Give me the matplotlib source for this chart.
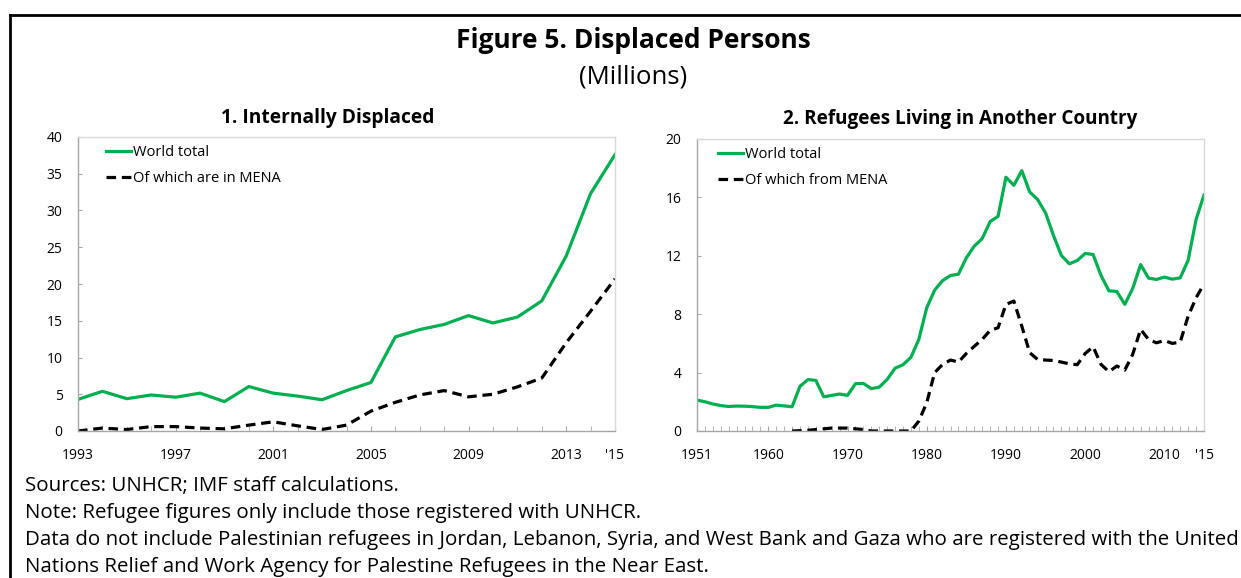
import matplotlib
matplotlib.use("Agg")
import matplotlib.pyplot as plt
from matplotlib.lines import Line2D

plt.rcParams['font.family'] = ['Open Sans', 'DejaVu Sans']

# ---------------- data ----------------
idp_years = list(range(1993, 2016))
idp_world = [4.3, 5.4, 4.4, 4.9, 4.6, 5.15, 4.0, 6.05, 5.15, 4.75, 4.25, 5.5,
             6.6, 12.8, 13.8, 14.5, 15.7, 14.7, 15.5, 17.7, 23.8, 32.3, 37.6]
idp_mena = [0.0, 0.4, 0.2, 0.6, 0.6, 0.4, 0.3, 0.8, 1.25, 0.7, 0.2, 0.8,
            2.7, 3.9, 4.9, 5.5, 4.65, 5.0, 6.0, 7.2, 12.0, 16.3, 20.7]

ref_years = list(range(1951, 2016))
ref_world = [2.12, 2.0, 1.85, 1.74, 1.68, 1.71, 1.70, 1.67, 1.62, 1.62, 1.77, 1.72,
             1.66, 3.06, 3.52, 3.47, 2.34, 2.44, 2.53, 2.44, 3.24, 3.26, 2.9, 3.0,
             3.53, 4.3, 4.54, 5.04, 6.27, 8.44, 9.65, 10.3, 10.65, 10.74, 11.86,
             12.66, 13.18, 14.34, 14.7, 17.38, 16.83, 17.83, 16.37, 15.85, 14.94,
             13.39, 12.02, 11.45, 11.68, 12.16, 12.09, 10.65, 9.6, 9.56, 8.67,
             9.76, 11.4, 10.47, 10.38, 10.54, 10.4, 10.49, 11.7, 14.48, 16.17]
ref_mena_years = list(range(1963, 2016))
ref_mena = [0.0, 0.02, 0.05, 0.1, 0.15, 0.2, 0.2, 0.2, 0.15, 0.1, 0.0, 0.0, 0.0,
            0.0, 0.0, 0.0, 0.68, 1.94, 4.0, 4.56, 4.86, 4.72, 5.31, 5.8, 6.27,
            6.89, 7.07, 8.67, 8.9, 7.18, 5.36, 4.9, 4.86, 4.83, 4.72, 4.6, 4.54,
            5.31, 5.77, 4.56, 4.06, 4.45, 4.17, 5.25, 6.96, 6.27, 6.04, 6.2, 6.0,
            6.09, 7.87, 9.12, 10.08]

left_xticks = [1993, 1997, 2001, 2005, 2009, 2013, 2015]
left_xlabels = ['1993', '1997', '2001', '2005', '2009', '2013', "'15"]
right_xticks = [1951, 1960, 1970, 1980, 1990, 2000, 2010, 2015]
right_xlabels = ['1951', '1960', '1970', '1980', '1990', '2000', '2010', "'15"]
left_yticks = [0, 5, 10, 15, 20, 25, 30, 35, 40]
right_yticks = [0, 4, 8, 12, 16, 20]

title = 'Figure 5. Displaced Persons'
subtitle = '(Millions)'
panel_titles = ['1. Internally Displaced', '2. Refugees Living in Another Country']
legend_left = ['World total', 'Of which are in MENA']
legend_right = ['World total', 'Of which from MENA']
notes = ['Sources: UNHCR; IMF staff calculations.',
         'Note: Refugee figures only include those registered with UNHCR.',
         'Data do not include Palestinian refugees in Jordan, Lebanon, Syria, and West Bank and Gaza who are registered with the United',
         'Nations Relief and Work Agency for Palestine Refugees in the Near East.']

GREEN = '#00B050'
W, H = 1241, 578
fig = plt.figure(figsize=(W / 100, H / 100), dpi=100)

def frac(x0, y0, x1, y1):
    return [x0 / W, 1 - y1 / H, (x1 - x0) / W, (y1 - y0) / H]

axL = fig.add_axes(frac(78, 137, 615, 431))
axR = fig.add_axes(frac(697, 139, 1204, 431))

def style(ax, xmin, xmax, ymax, yticks, xticks, xlabels):
    ax.set_xlim(xmin, xmax)
    ax.set_ylim(0, ymax)
    ax.set_yticks(yticks)
    ax.set_xticks(xticks)
    ax.set_xticklabels(xlabels)
    ax.set_xticks(range(xmin, xmax + 1), minor=True)
    for s in ['top', 'right']:
        ax.spines[s].set_color('#D9D9D9')
        ax.spines[s].set_linewidth(1.0)
    for s in ['left', 'bottom']:
        ax.spines[s].set_color('#A6A6A6')
        ax.spines[s].set_linewidth(1.0)
    ax.tick_params(axis='y', direction='in', length=3, color='#A6A6A6',
                   labelsize=10, pad=11, labelcolor='black')
    ax.tick_params(axis='x', which='both', direction='in', length=3.5, color='#A6A6A6',
                   labelsize=10, pad=12, labelcolor='black')
    ax.tick_params(axis='y', which='minor', left=False)

lw = 2.3
axL.plot(idp_years, idp_world, color=GREEN, lw=lw, label=legend_left[0], solid_joinstyle='round')
axL.plot(idp_years, idp_mena, color='black', lw=lw, dashes=(3, 1.8), label=legend_left[1])
style(axL, 1993, 2015, 40, left_yticks, left_xticks, left_xlabels)

axR.plot(ref_years, ref_world, color=GREEN, lw=lw, label=legend_right[0], solid_joinstyle='round')
axR.plot(ref_mena_years, ref_mena, color='black', lw=lw, dashes=(3, 1.8), label=legend_right[1])
style(axR, 1951, 2015, 20, right_yticks, right_xticks, right_xlabels)

axL.legend(loc='upper left', bbox_to_anchor=(0.053, 0.972), frameon=False,
           fontsize=10.5, handlelength=1.7, handletextpad=0.1, labelspacing=0.75,
           borderpad=0, borderaxespad=0)
axR.legend(loc='upper left', bbox_to_anchor=(0.042, 0.972), frameon=False,
           fontsize=10.5, handlelength=1.7, handletextpad=0.1, labelspacing=0.75,
           borderpad=0, borderaxespad=0)

fig.text(328 / W, 1 - 118 / H, panel_titles[0], ha='center', va='center',
         fontsize=13.8, fontweight='bold')
fig.text(960 / W, 1 - 119 / H, panel_titles[1], ha='center', va='center',
         fontsize=13.6, fontweight='bold')

fig.text(633 / W, 1 - 40 / H, title, ha='center', va='center', fontsize=19, fontweight='bold')
fig.text(633 / W, 1 - 77 / H, subtitle, ha='center', va='center', fontsize=18.5)

for i, t in enumerate(notes):
    fig.text(25 / W, 1 - (486 + 27 * i) / H, t, ha='left', va='center', fontsize=14.75)

# frame lines
fig.add_artist(Line2D([10 / W, 1.0], [1 - 15 / H, 1 - 15 / H], color='black', lw=2,
                      transform=fig.transFigure))
fig.add_artist(Line2D([10 / W, 10 / W], [1 - 15 / H, 0], color='black', lw=2,
                      transform=fig.transFigure))

fig.savefig('out.png', dpi=100)
